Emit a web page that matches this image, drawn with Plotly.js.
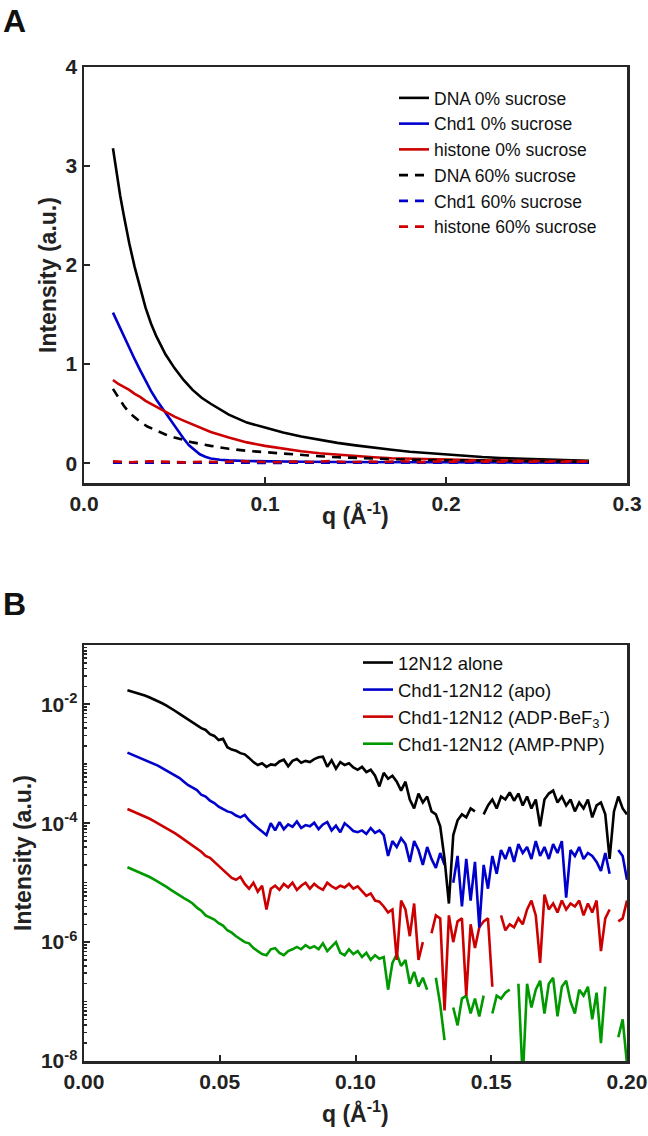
<!DOCTYPE html>
<html>
<head>
<meta charset="utf-8">
<script src="https://cdn.plot.ly/plotly-3.0.1.min.js"></script>
<style>
html,body{margin:0;padding:0;background:#fff;}
#chart{width:648px;height:1136px;}
</style>
</head>
<body>
<div id="chart"></div>
<script>
// ---------- Panel A data (linear intensity) ----------
const qA_DNA0 = [0.016,0.018,0.020,0.022,0.025,0.028,0.031,0.034,0.037,0.040,0.045,0.050,0.055,0.060,0.065,0.070,0.080,0.090,0.100,0.110,0.120,0.130,0.140,0.150,0.160,0.170,0.180,0.190,0.200,0.210,0.220,0.230,0.240,0.250,0.260,0.270,0.279];
const iA_DNA0 = [3.18,2.92,2.70,2.50,2.22,1.98,1.76,1.57,1.41,1.28,1.10,0.96,0.84,0.74,0.66,0.60,0.49,0.41,0.36,0.31,0.27,0.235,0.205,0.18,0.155,0.135,0.115,0.10,0.085,0.072,0.062,0.053,0.045,0.038,0.033,0.028,0.025];

const qA_Chd0 = [0.016,0.019,0.022,0.025,0.028,0.031,0.034,0.037,0.040,0.043,0.046,0.049,0.052,0.055,0.058,0.061,0.064,0.067,0.070,0.075,0.080,0.090,0.100,0.120,0.140,0.160,0.200,0.240,0.279];
const iA_Chd0 = [1.52,1.40,1.28,1.16,1.05,0.94,0.83,0.73,0.64,0.56,0.48,0.40,0.32,0.25,0.18,0.13,0.09,0.065,0.048,0.035,0.028,0.022,0.018,0.014,0.012,0.010,0.008,0.007,0.006];

const qA_His0 = [0.016,0.019,0.022,0.025,0.028,0.031,0.034,0.037,0.040,0.043,0.046,0.050,0.055,0.060,0.065,0.070,0.080,0.090,0.100,0.110,0.120,0.130,0.140,0.150,0.160,0.170,0.180,0.190,0.200,0.220,0.240,0.260,0.279];
const iA_His0 = [0.84,0.80,0.77,0.74,0.70,0.67,0.63,0.60,0.57,0.54,0.51,0.47,0.43,0.39,0.35,0.315,0.26,0.21,0.175,0.145,0.12,0.10,0.085,0.07,0.06,0.05,0.045,0.04,0.035,0.03,0.025,0.02,0.02];

const qA_DNA60 = [0.016,0.019,0.022,0.025,0.028,0.031,0.035,0.040,0.045,0.050,0.055,0.060,0.070,0.080,0.090,0.100,0.110,0.120,0.130,0.140,0.150,0.160,0.170,0.180,0.200,0.220,0.240,0.260,0.279];
const iA_DNA60 = [0.75,0.66,0.58,0.51,0.46,0.42,0.37,0.33,0.29,0.26,0.235,0.21,0.175,0.145,0.125,0.11,0.095,0.08,0.07,0.06,0.052,0.045,0.04,0.035,0.03,0.025,0.02,0.018,0.015];

const qA_Chd60 = [0.016,0.026,0.036,0.046,0.056,0.066,0.076,0.086,0.096,0.106,0.116,0.126,0.136,0.146,0.156,0.166,0.176,0.186,0.196,0.206,0.216,0.226,0.236,0.246,0.256,0.266];
const iA_Chd60 = [0.005,0.003,0.006,0.002,0.004,0.005,0.003,0.006,0.004,0.003,0.005,0.004,0.006,0.003,0.005,0.004,0.002,0.005,0.004,0.006,0.003,0.005,0.004,0.006,0.003,0.005];

const qA_His60 = [0.016,0.026,0.036,0.046,0.056,0.066,0.076,0.086,0.096,0.106,0.116,0.126,0.136,0.146,0.156,0.166,0.176,0.186,0.196,0.206,0.216,0.226,0.236,0.246,0.256,0.266,0.279];
const iA_His60 = [0.018,0.010,0.020,0.012,0.008,0.016,0.011,0.021,0.014,0.009,0.017,0.012,0.022,0.010,0.016,0.013,0.020,0.011,0.018,0.014,0.021,0.012,0.017,0.015,0.020,0.013,0.018];

const legendA = ["DNA 0% sucrose","Chd1 0% sucrose","histone 0% sucrose","DNA 60% sucrose","Chd1 60% sucrose","histone 60% sucrose"];

// ---------- Panel B data (log10 intensity, null = missing / non-positive) ----------
const qB = [0.0160,0.0176,0.0192,0.0208,0.0224,0.0240,0.0256,0.0272,0.0288,0.0304,
0.0320,0.0336,0.0352,0.0368,0.0384,0.0400,0.0416,0.0432,0.0448,0.0464,
0.0480,0.0496,0.0512,0.0528,0.0544,0.0560,0.0576,0.0592,0.0608,0.0624,
0.0640,0.0656,0.0672,0.0688,0.0704,0.0720,0.0736,0.0752,0.0768,0.0784,
0.0800,0.0816,0.0832,0.0848,0.0864,0.0880,0.0896,0.0912,0.0928,0.0944,
0.0960,0.0976,0.0992,0.1008,0.1024,0.1040,0.1056,0.1072,0.1088,0.1104,
0.1120,0.1136,0.1152,0.1168,0.1184,0.1200,0.1216,0.1232,0.1248,0.1264,
0.1280,0.1296,0.1312,0.1328,0.1344,0.1360,0.1376,0.1392,0.1408,0.1424,
0.1440,0.1456,0.1472,0.1488,0.1504,0.1520,0.1536,0.1552,0.1568,0.1584,
0.1600,0.1616,0.1632,0.1648,0.1664,0.1680,0.1696,0.1712,0.1728,0.1744,
0.1760,0.1776,0.1792,0.1808,0.1824,0.1840,0.1856,0.1872,0.1888,0.1904,
0.1920,0.1936,0.1952,0.1968,0.1984,0.2000];

const logB_alone = [-1.76,-1.78,-1.80,-1.83,-1.85,-1.88,-1.91,-1.94,-1.98,-2.02,
-2.06,-2.11,-2.16,-2.21,-2.25,-2.30,-2.36,-2.40,-2.43,-2.50,
-2.53,-2.60,-2.58,-2.72,-2.76,-2.78,-2.82,-2.84,-2.90,-2.97,
-3.02,-2.99,-3.05,-3.01,-3.02,-2.96,-2.93,-3.04,-2.95,-2.92,
-2.98,-2.95,-2.97,-2.92,-2.89,-2.88,-3.05,-2.94,-3.08,-2.97,
-3.02,-2.99,-3.06,-3.10,-3.05,-3.14,-3.10,-3.20,-3.38,-3.15,
-3.25,-3.20,-3.30,-3.45,-3.30,-3.60,-3.75,-3.50,-3.65,-3.55,
-3.80,-3.85,-4.05,-4.60,-5.35,-4.20,-3.95,-3.85,-3.90,-3.75,
-3.80,null,-3.85,-3.70,-3.60,-3.75,-3.55,-3.60,-3.48,-3.62,
-3.50,-3.70,-3.55,-3.75,-3.60,-4.05,-3.60,-3.50,-3.45,-3.65,
-3.55,-3.70,-3.60,-3.80,-3.65,-3.75,-3.60,-3.90,-3.70,-3.65,
-3.85,-4.60,-3.80,-3.55,-3.75,-3.85];

const logB_apo = [-2.81,-2.84,-2.87,-2.90,-2.93,-2.96,-3.00,-3.03,-3.07,-3.11,
-3.15,-3.20,-3.24,-3.30,-3.36,-3.40,-3.44,-3.52,-3.55,-3.62,
-3.66,-3.72,-3.76,-3.80,-3.82,-3.87,-3.90,-3.86,-3.95,-4.02,
-4.08,-4.14,-4.20,-4.00,-4.12,-3.98,-4.10,-4.02,-4.06,-3.97,
-4.08,-4.03,-4.05,-3.99,-4.10,-4.02,-3.98,-4.12,-4.04,-4.15,
-4.00,-4.06,-4.13,-4.15,-4.12,-4.18,-4.08,-4.16,-4.12,-4.20,
-4.55,-4.30,-4.40,-4.25,-4.35,-4.65,-4.30,-4.45,-4.70,-4.40,
-4.60,-4.75,-4.50,-4.70,null,-5.00,-4.55,-5.40,-4.60,-5.30,
-4.65,-5.75,-4.70,-5.10,-4.55,-4.85,-4.45,-4.60,-4.40,-4.65,
-4.35,-4.50,-4.40,-4.60,-4.30,-4.55,-4.40,-4.60,-4.35,-4.50,
-4.30,-5.25,-4.45,-4.55,-4.40,-4.60,-4.50,-4.55,-4.65,-4.80,
-4.50,-4.85,null,-4.45,-4.55,-4.95];

const logB_adp = [-3.76,-3.79,-3.82,-3.85,-3.88,-3.92,-3.96,-4.00,-4.04,-4.08,
-4.13,-4.17,-4.22,-4.27,-4.32,-4.38,-4.43,-4.48,-4.55,-4.58,
-4.65,-4.72,-4.78,-4.85,-4.92,-4.95,-4.90,-5.02,-5.10,-5.00,
-5.15,-5.05,-5.45,-5.10,-5.05,-5.12,-5.02,-5.08,-5.00,-5.12,
-5.05,-5.00,-5.10,-5.02,-5.08,-5.12,-5.00,-5.06,-5.10,-5.05,
-5.08,-5.02,-5.10,-5.06,-5.15,-5.22,-5.18,-5.30,-5.32,-5.40,
-5.50,-5.45,-6.30,-5.30,-5.45,-5.90,-5.35,-6.30,-6.00,null,
-5.85,-5.55,-5.60,-7.15,-5.55,-6.00,-5.65,-5.60,-6.90,-5.70,
-6.10,-5.75,-5.65,-5.60,-6.75,null,-5.55,-5.80,-5.70,-5.75,
-5.60,-5.70,-5.45,-5.30,-5.55,-6.35,-5.20,-5.45,-5.35,-5.50,
-5.30,-5.45,-5.35,-5.40,-5.30,-5.55,-5.35,-5.50,-5.30,-6.15,
-5.60,-5.45,null,-5.65,-5.60,-5.30];

const logB_amppnp = [-4.74,-4.77,-4.80,-4.83,-4.86,-4.90,-4.94,-4.98,-5.03,-5.07,
-5.12,-5.17,-5.21,-5.26,-5.30,-5.35,-5.42,-5.47,-5.55,-5.58,
-5.62,-5.68,-5.72,-5.80,-5.84,-5.90,-5.95,-6.00,-6.02,-6.10,
-6.15,-6.20,-6.22,-6.12,-6.10,-6.18,-6.22,-6.15,-6.12,-6.08,
-6.12,-6.05,-6.10,-6.07,-6.12,-6.02,-6.15,-6.08,-6.00,-6.18,
-6.22,-6.12,-6.20,-6.15,-6.25,-6.18,-6.30,-6.22,-6.28,-6.25,
-6.80,-6.35,-6.20,-6.40,-6.30,-6.70,-6.50,-6.75,-6.60,-6.80,
null,-6.60,-7.05,-7.65,null,-7.10,-7.40,-6.95,-6.90,-7.20,
-6.95,-7.25,-6.90,null,-7.20,-6.90,-6.95,-6.85,-6.80,null,
-6.70,-8.30,-6.70,-7.10,-6.80,-6.65,-7.20,-6.70,-6.60,-7.25,
-6.75,-6.65,-7.00,-7.20,-6.80,-6.90,-6.75,-7.30,-6.85,-7.70,
-6.75,null,null,-7.60,-7.30,-8.05];

const legendB = ["12N12 alone","Chd1-12N12 (apo)","Chd1-12N12 (ADP\u00b7BeF<sub>3</sub><sup>-</sup>)","Chd1-12N12 (AMP-PNP)"];

const xTicksA = [0,0.1,0.2,0.3], xTickTextA = ["0.0","0.1","0.2","0.3"];
const yTicksA = [0,1,2,3,4], yTickTextA = ["0","1","2","3","4"];
const xTicksB = [0,0.05,0.10,0.15,0.20], xTickTextB = ["0.00","0.05","0.10","0.15","0.20"];
const yTicksB = [1e-8,1e-6,1e-4,1e-2];
const yTickTextB = ["10<sup>-8</sup>","10<sup>-6</sup>","10<sup>-4</sup>","10<sup>-2</sup>"];
const xTitle = "q (Å<sup>-1</sup>)", yTitle = "Intensity (a.u.)";

// ---------- styling ----------
const BLACK = "#000000", BLUE = "#0000CC", RED = "#CC0000", GREEN = "#009900";
const AX = "#262626";
const FONT = "Liberation Sans, Arial, Helvetica, sans-serif";
const LW = 2.6;
const DASH = "9px,7px";

const toLin = arr => arr.map(v => v === null ? null : Math.pow(10, v));

const traces = [
  {x:qA_DNA0, y:iA_DNA0, name:legendA[0], line:{color:BLACK,width:LW}},
  {x:qA_Chd0, y:iA_Chd0, name:legendA[1], line:{color:BLUE,width:LW}},
  {x:qA_His0, y:iA_His0, name:legendA[2], line:{color:RED,width:LW}},
  {x:qA_DNA60, y:iA_DNA60, name:legendA[3], line:{color:BLACK,width:LW,dash:DASH}},
  {x:qA_Chd60, y:iA_Chd60, name:legendA[4], line:{color:BLUE,width:LW,dash:DASH}},
  {x:qA_His60, y:iA_His60, name:legendA[5], line:{color:RED,width:LW,dash:DASH}}
].map(t => Object.assign({type:"scatter", mode:"lines", xaxis:"x", yaxis:"y", legend:"legend"}, t));

const tracesB = [
  {y:toLin(logB_amppnp), name:legendB[3], line:{color:GREEN,width:LW}},
  {y:toLin(logB_adp), name:legendB[2], line:{color:RED,width:LW}},
  {y:toLin(logB_apo), name:legendB[1], line:{color:BLUE,width:LW}},
  {y:toLin(logB_alone), name:legendB[0], line:{color:BLACK,width:LW}}
].map(t => Object.assign({type:"scatter", mode:"lines", x:qB, xaxis:"x2", yaxis:"y2", legend:"legend2", connectgaps:false}, t));

// minor log ticks: 2..9 x each decade, plus the unlabelled odd decades
const minorB = [];
for (let d = -8; d < -1; d++) for (let m = 2; m <= 10; m++) minorB.push(m * Math.pow(10, d));

const W = 648, H = 1136;
const xDom = [84/W, 627/W];
const yDomA = [1-483/H, 1-67/H];
const yDomB = [1-1061/H, 1-645/H];
const xMid = (xDom[0] + xDom[1]) / 2;

const TICKSIZE = 21, TITLESIZE = 23;
const axisCommon = {
  showline:true, linecolor:AX, linewidth:2.5, mirror:true,
  ticks:"inside", tickcolor:AX, tickwidth:2, ticklen:6,
  showgrid:false, zeroline:false,
  tickfont:{family:FONT, size:TICKSIZE, color:"#222", weight:"bold"},
  automargin:false
};
const titleFont = {family:FONT, size:TITLESIZE, color:"#222", weight:"bold"};
const ann = (text, x, y, angle) => ({text, x, y, xref:"paper", yref:"paper", xanchor:"center", yanchor:"middle",
  showarrow:false, textangle:angle || 0, font:titleFont});

const layout = {
  width:W, height:H,
  margin:{l:0,r:0,t:0,b:0},
  paper_bgcolor:"#fff", plot_bgcolor:"#fff",
  showlegend:true,
  xaxis: Object.assign({}, axisCommon, {domain:xDom, anchor:"y", range:[0,0.3], tickmode:"array", tickvals:xTicksA, ticktext:xTickTextA}),
  yaxis: Object.assign({}, axisCommon, {domain:yDomA, anchor:"x", range:[-0.2,4], tickmode:"array", tickvals:yTicksA, ticktext:yTickTextA}),
  xaxis2: Object.assign({}, axisCommon, {domain:xDom, anchor:"y2", range:[0,0.2], tickmode:"array", tickvals:xTicksB, ticktext:xTickTextB}),
  yaxis2: Object.assign({}, axisCommon, {domain:yDomB, anchor:"x2", type:"log", range:[-8,-1], tickmode:"array",
    tickvals:yTicksB, ticktext:yTickTextB,
    minor:{tickmode:"array", tickvals:minorB, ticks:"inside", ticklen:3, tickwidth:1.5, tickcolor:AX, showgrid:false}}),
  legend:{x:394/W, y:1-80/H, xanchor:"left", yanchor:"top", bgcolor:"rgba(0,0,0,0)", borderwidth:0,
    font:{family:FONT, size:17.5, color:"#111"}, itemwidth:30, tracegroupgap:0},
  legend2:{x:358/W, y:1-644/H, xanchor:"left", yanchor:"top", bgcolor:"rgba(0,0,0,0)", borderwidth:0,
    font:{family:FONT, size:18.5, color:"#111"}, traceorder:"reversed", itemwidth:30, tracegroupgap:0},
  annotations:[
    ann(xTitle, xMid, 1-514/H),
    ann(yTitle, 48/W, 1-275/H, -90),
    ann(xTitle, xMid, 1-1112/H),
    ann(yTitle, 23/W, 1-853/H, -90),
    {text:"A", x:0, y:1, xref:"paper", yref:"paper", xanchor:"left", yanchor:"top", xshift:1, yshift:-1, showarrow:false,
     font:{family:FONT, size:32, color:"#111", weight:"bold"}},
    {text:"B", x:0, y:1-584/H, xref:"paper", yref:"paper", xanchor:"left", yanchor:"top", xshift:1, showarrow:false,
     font:{family:FONT, size:32, color:"#111", weight:"bold"}}
  ]
};

Plotly.newPlot("chart", traces.concat(tracesB), layout, {displayModeBar:false, staticPlot:true});
</script>
</body>
</html>
